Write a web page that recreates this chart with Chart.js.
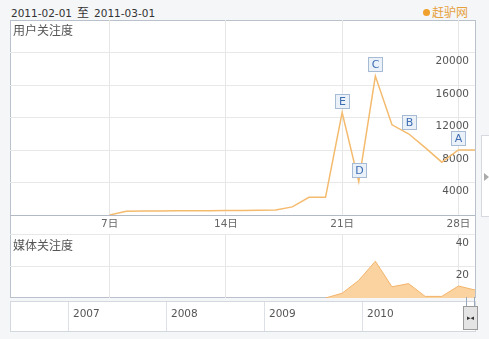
<!DOCTYPE html>
<html>
<head>
<meta charset="utf-8">
<script src="https://cdn.jsdelivr.net/npm/chart.js@4.4.1/dist/chart.umd.min.js"></script>
<style>
body{margin:0;width:489px;height:339px;overflow:hidden;position:relative;background:#f5f6f8;font-family:"DejaVu Sans","Noto Sans CJK SC",sans-serif;}
.abs{position:absolute;}
#range{left:11px;top:3px;font-size:10.5px;color:#333;white-space:nowrap;}
#range .zh{font-family:"Noto Sans CJK SC";font-size:12px;margin:0 5px;}
#brand{left:423px;top:3px;font-family:"Noto Sans CJK SC";font-size:12px;color:#e6a13c;white-space:nowrap;}
#brand i{display:inline-block;width:7px;height:7px;border-radius:50%;background:#f0a02c;margin-right:2px;vertical-align:1px;}
#box{left:10px;top:20px;width:466px;height:278px;box-sizing:border-box;border:1px solid #b9c1cc;background:#fff;}
#sep{left:10px;top:234px;width:466px;height:1px;background:#b9c1cc;}
.ttl{font-family:"Noto Sans CJK SC";font-size:12px;color:#555;}
#t1{left:13px;top:21px;}
#t2{left:13px;top:236px;}
#c1{left:10px;top:20px;}
#c2{left:10px;top:234px;}
#tl{left:10px;top:301px;width:466px;height:31px;box-sizing:border-box;border:1px solid #d3d8df;background:#fff;}
.ysep{top:302px;width:1px;height:29px;background:#dde1e7;}
.ylab{top:307px;font-size:10.5px;color:#555;}
#handle{left:463px;top:306px;width:15px;height:24px;box-sizing:border-box;border:1px solid #9a9a9a;background:#e4e4e4;font-size:7px;line-height:22px;text-align:center;color:#333;}
.hl{top:297px;width:1px;height:9px;background:#9aa8bb;}
#tab{left:481px;top:135px;width:12px;height:82px;box-sizing:border-box;border:1px solid #d6dae0;background:#fff;}
#tab span{position:absolute;left:2px;top:37px;width:0;height:0;border-top:4px solid transparent;border-bottom:4px solid transparent;border-left:5px solid #aaa;}
</style>
</head>
<body>
<div class="abs" id="range">2011-02-01<span class="zh">至</span>2011-03-01</div>
<div class="abs" id="brand"><i></i>赶驴网</div>
<div class="abs" id="box"></div>
<div class="abs" id="sep"></div>
<canvas class="abs" id="c1" width="465" height="214"></canvas>
<canvas class="abs" id="c2" width="465" height="64"></canvas>
<div class="abs ttl" id="t1">用户关注度</div>
<div class="abs ttl" id="t2">媒体关注度</div>
<div class="abs" id="tl"></div>
<div id="years"></div>
<div class="abs hl" style="left:466px"></div>
<div class="abs hl" style="left:474px"></div>
<div class="abs" id="handle">&#9656;&#9666;</div>
<div class="abs" id="tab"><span></span></div>
<script>
// days of Feb 2011 (29 = Mar 1)
var days = [1,2,3,4,5,6,7,8,9,10,11,12,13,14,15,16,17,18,19,20,21,22,23,24,25,26,27,28,29];
var userIndex = [null,null,null,null,null,null,0,450,480,500,510,520,530,540,560,590,630,1000,2180,2180,12600,4100,17100,11100,10000,8300,6500,8000,8000];
var mediaIndex = [null,null,null,null,null,null,null,null,null,null,null,null,null,null,null,null,null,null,null,0,3,11,23,7,9,1,1,7.5,5];
var dayTicks = [7,14,21,28];
var userTicks = [4000,8000,12000,16000,20000];
var mediaTicks = [20,40];
var markLetters = ['E','D','C','B','A'];
var markDays = [21,22,23,25,28];
var timelineYears = ['2007','2008','2009','2010'];

var tickFont = {family: '"DejaVu Sans", "Noto Sans CJK SC", sans-serif', size: 10.5};

// year strip below the charts
var yb = document.getElementById('years');
timelineYears.forEach(function(y, i) {
  var x = 68 + i * 98;
  yb.innerHTML += '<div class="abs ysep" style="left:' + x + 'px"></div>' +
    '<div class="abs ylab" style="left:' + (x + 5) + 'px">' + y + '</div>';
});

function pts(arr) {
  return days.map(function(d, i) { return {x: d, y: arr[i]}; });
}

function noPad(s) {
  s.paddingTop = 0; s.paddingBottom = 0; s.paddingLeft = 0; s.paddingRight = 0;
}

var markPlugin = {
  id: 'marks',
  afterDatasetsDraw: function(chart) {
    var ctx = chart.ctx, xs = chart.scales.x, ys = chart.scales.y;
    ctx.save();
    markLetters.forEach(function(t, i) {
      var v = userIndex[days.indexOf(markDays[i])];
      var x = Math.round(xs.getPixelForValue(markDays[i]));
      var y = Math.round(ys.getPixelForValue(v)) - 12;
      ctx.fillStyle = '#eaf1f9';
      ctx.fillRect(x - 7, y - 7, 15, 15);
      ctx.strokeStyle = '#a7bbd4';
      ctx.lineWidth = 1;
      ctx.strokeRect(x - 6.5, y - 6.5, 14, 14);
      ctx.fillStyle = '#3e6db2';
      ctx.font = '11px "DejaVu Sans"';
      ctx.textAlign = 'center';
      ctx.textBaseline = 'middle';
      ctx.fillText(t, x + 0.5, y + 1);
    });
    ctx.restore();
  }
};

var ctx1 = document.getElementById('c1').getContext('2d');
new Chart(ctx1, {
  type: 'line',
  data: {
    datasets: [{
      data: pts(userIndex),
      borderColor: '#f4bb6e',
      borderWidth: 1.5,
      pointRadius: 0,
      tension: 0,
      fill: false
    }]
  },
  options: {
    responsive: false,
    animation: false,
    events: [],
    layout: {padding: 0},
    plugins: {legend: {display: false}, tooltip: {enabled: false}},
    scales: {
      x: {
        type: 'linear', min: 1, max: 29,
        afterBuildTicks: function(s) { s.ticks = dayTicks.map(function(v) { return {value: v}; }); },
        afterFit: function(s) { s.height = 19; noPad(s); },
        ticks: {color: '#666', font: tickFont, padding: 3, maxRotation: 0, callback: function(v) { return v + '日'; }},
        grid: {color: '#e6e6e6', drawTicks: false},
        border: {display: true, color: '#b2bac6'}
      },
      y: {
        position: 'right', min: 0, max: 24000,
        afterBuildTicks: function(s) { s.ticks = userTicks.map(function(v) { return {value: v}; }); },
        afterFit: function(s) { s.width = 0; noPad(s); },
        ticks: {mirror: true, color: '#555', font: tickFont, padding: -6, labelOffset: 9, callback: function(v) { return String(v); }},
        grid: {color: '#e8e8e8', drawTicks: false},
        border: {display: false}
      }
    }
  },
  plugins: [markPlugin]
});

var ctx2 = document.getElementById('c2').getContext('2d');
new Chart(ctx2, {
  type: 'line',
  data: {
    datasets: [{
      data: pts(mediaIndex),
      borderColor: '#f3b36a',
      backgroundColor: '#fad3a0',
      borderWidth: 1,
      pointRadius: 0,
      tension: 0,
      fill: 'origin'
    }]
  },
  options: {
    responsive: false,
    animation: false,
    events: [],
    layout: {padding: 0},
    plugins: {legend: {display: false}, tooltip: {enabled: false}},
    scales: {
      x: {
        type: 'linear', min: 1, max: 29,
        afterBuildTicks: function(s) { s.ticks = dayTicks.map(function(v) { return {value: v}; }); },
        afterFit: function(s) { s.height = 0; noPad(s); },
        ticks: {display: false},
        grid: {color: '#e6e6e6', drawTicks: false},
        border: {display: false}
      },
      y: {
        position: 'right', min: 0, max: 40,
        afterBuildTicks: function(s) { s.ticks = mediaTicks.map(function(v) { return {value: v}; }); },
        afterFit: function(s) { s.width = 0; noPad(s); },
        ticks: {mirror: true, color: '#555', font: tickFont, padding: -6, labelOffset: 9, callback: function(v) { return String(v); }},
        grid: {color: '#e8e8e8', drawTicks: false},
        border: {display: false}
      }
    }
  }
});
</script>
</body>
</html>
